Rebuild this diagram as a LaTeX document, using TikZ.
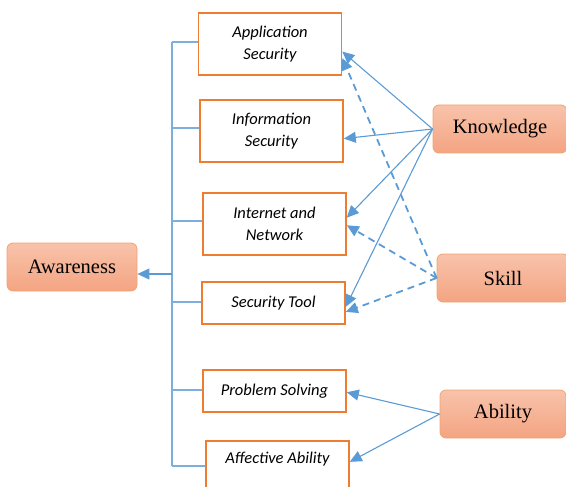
\documentclass[tikz,border=0pt]{standalone}
\usepackage{fontspec}
\setmainfont{Liberation Serif}
\newfontfamily\itemfont{Carlito}
\usepackage{xcolor}
\usetikzlibrary{arrows.meta,calc,positioning}
\definecolor{boxorange}{HTML}{ED7D31}
\definecolor{lineblue}{HTML}{5B9BD5}
\definecolor{salmontop}{HTML}{F8C3AB}
\definecolor{salmonbot}{HTML}{F4A482}
\definecolor{salmonline}{HTML}{F0A474}

\begin{document}
\begin{tikzpicture}[x=1pt,y=-1pt,
item/.style={draw=boxorange,line width=1.6pt,fill=white,minimum width=143pt,minimum height=62pt,inner sep=0pt,align=center,font=\itemfont\itshape\fontsize{16.5}{22}\selectfont},
itemone/.style={item,minimum height=42pt},
group/.style={draw=salmonline,line width=0.8pt,rounded corners=6pt,top color=salmontop,bottom color=salmonbot,minimum height=48pt,inner sep=0pt,font=\fontsize{20.5}{24}\selectfont},
link/.style={color=lineblue,line width=1.1pt,-{Triangle[length=12pt,width=11pt]}},
dlink/.style={link,line width=1.8pt,dash pattern=on 7pt off 5pt},
spine/.style={draw,color=lineblue!80,line width=1.2pt}]
\useasboundingbox (0,0) rectangle (566,487);
% left column
\node[group,minimum width=130pt] (aware) at (72,267) {Awareness};
\node[item] (app) at (270,44) {Application\\Security};
\node[item] (info) at (271.5,131) {Information\\Security};
\node[item] (inet) at (274.5,224) {Internet and\\Network};
\node[itemone] (tool) at (273.5,303) {Security Tool};
\node[itemone] (prob) at (274.5,391) {Problem Solving};
\node[item] (affect) at (277.5,472) {Affective Ability\\ \strut};
% right column
\node[group,minimum width=134pt] (know) at (500,129) {Knowledge};
\node[group,minimum width=132pt] (skill) at (503,278) {Skill};
\node[group,minimum width=126pt] (abil) at (503,414) {Ability};
% bracket
\coordinate (top) at (172,42);
\coordinate (mid) at (172,274);
\coordinate (bot) at (172,466);
\path[spine]
(top) -- (bot)
(top) -- (top -| app.west)
(172,128) -- (info.west |- 0,128)
(172,221) -- (inet.west |- 0,221)
(172,302) -- (tool.west |- 0,302)
(172,390) -- (prob.west |- 0,390)
(bot) -- (bot -| affect.west);
\draw[link] (mid) -- (mid -| aware.east);
% knowledge
\path[link]
(know.west) edge (app.-6)
(know.west) edge (info.-6)
(know.west) edge (inet.5)
(know.west) edge (tool.-3);
% skill
\path[dlink]
(skill.west) edge (app.-11)
(skill.west) edge (inet.-1)
(skill.west) edge (tool.-7);
% ability
\path[link]
(abil.west) edge (prob.-1)
(abil.west) edge (affect.8);
\end{tikzpicture}
\end{document}
